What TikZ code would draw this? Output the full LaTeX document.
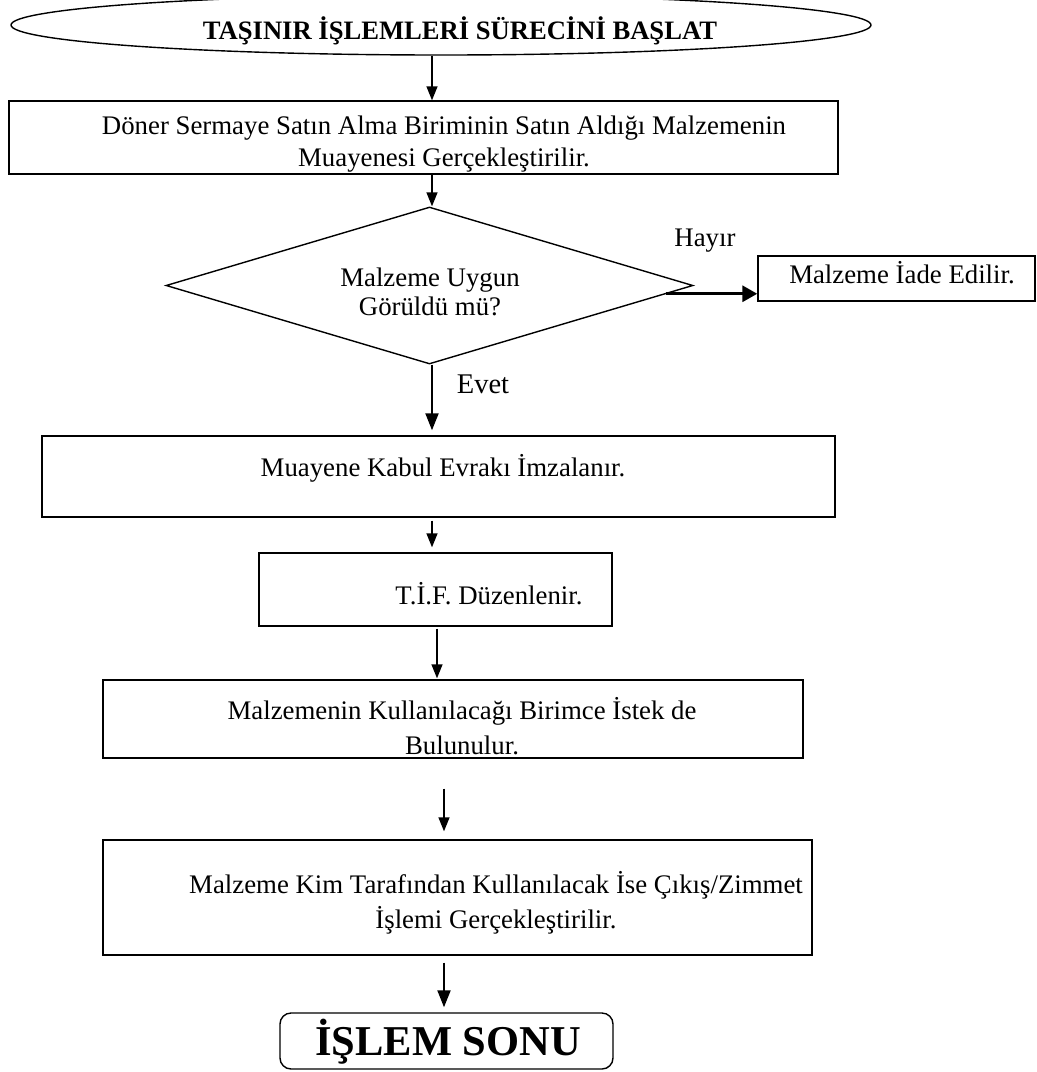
\documentclass[tikz,border=0pt]{standalone}
\usepackage{fontspec}
\setmainfont{Liberation Serif}
\usetikzlibrary{shapes.geometric,arrows.meta}

\begin{document}
\begin{tikzpicture}[x=1pt,y=-1pt,
  boxshape/.style={draw,line width=1.4pt,inner sep=0pt},
  body/.style={font=\fontsize{26.8}{32}\selectfont,align=center,inner sep=0pt},
  arr/.style={line width=1.4pt,-{Triangle[width=11pt,length=14pt]}},
  arrthick/.style={line width=2pt,-{Triangle[width=13pt,length=17pt]}},
  arrheavy/.style={line width=3.2pt,-{Triangle[width=16pt,length=15pt]}}]
\useasboundingbox (0,0) rectangle (1037,1072);

% start terminator
\node[boxshape,ellipse,minimum width=860,minimum height=60] (start) at (441,25) {};
\node[font=\bfseries\fontsize{26.6}{30}\selectfont,inner sep=0pt] (tstart) at (460,31) {TAŞINIR İŞLEMLERİ SÜRECİNİ BAŞLAT};

% process boxes
\node[boxshape,minimum width=829,minimum height=73] (b1) at (423.5,137.5) {};
\node[body] (t1) at (444,144) {Döner Sermaye Satın Alma Biriminin Satın Aldığı Malzemenin\\Muayenesi Gerçekleştirilir.};

% decision
\node[boxshape,diamond,minimum width=527,minimum height=157] (d) at (429.5,285.5) {};
\node[body,font=\fontsize{26.8}{29}\selectfont] (td) at (430,292) {Malzeme Uygun\\Görüldü mü?};

\node[boxshape,minimum width=277,minimum height=45] (iade) at (896.5,278.5) {};
\node[body] (tiade) at (902,273) {Malzeme İade Edilir.};

\node[boxshape,minimum width=793,minimum height=81] (b2) at (438.5,476.5) {};
\node[body] (t2) at (443,468) {Muayene Kabul Evrakı İmzalanır.};

\node[boxshape,minimum width=353,minimum height=73] (b3) at (435.5,589.5) {};
\node[body] (t3) at (489,594) {T.İ.F. Düzenlenir.};

\node[boxshape,minimum width=700,minimum height=78] (b4) at (453,719) {};
\node[body,font=\fontsize{26.8}{35}\selectfont] (t4) at (462,726) {Malzemenin Kullanılacağı Birimce İstek de\\Bulunulur.};

\node[boxshape,minimum width=709,minimum height=115] (b5) at (457.5,897.5) {};
\node[body,font=\fontsize{26.8}{35}\selectfont] (t5) at (496,903) {Malzeme Kim Tarafından Kullanılacak İse Çıkış/Zimmet\\İşlemi Gerçekleştirilir.};

% end terminator
\node[boxshape,rounded corners=11pt,minimum width=333,minimum height=56] (end) at (446.5,1041) {};
\node[font=\bfseries\fontsize{42.5}{48}\selectfont,inner sep=0pt] (tend) at (448,1042) {İŞLEM SONU};

% branch labels
\node[body] (hayir) at (705,241) {Hayır};
\node[body,font=\fontsize{28.5}{32}\selectfont] (evet) at (483,384) {Evet};

% connector columns
\coordinate (cA) at (432,0);
\coordinate (cB) at (437,0);
\coordinate (cC) at (444,0);

% connectors
\draw[arr] (start.south -| cA) -- (b1.north -| cA);
\draw[arr] (b1.south -| cA) -- (d.north -| cA);
\draw[arrheavy] (d.-2.9) -- (d.-2.9 -| iade.west);
\draw[arrthick,shorten >=5pt] (d.south -| cA) -- (b2.north -| cA);
\draw[arr,shorten <=3pt,shorten >=5pt] (b2.south -| cA) -- (b3.north -| cA);
\draw[arr,shorten <=2pt,shorten >=1pt] (b3.south -| cB) -- (b4.north -| cB);
\draw[arr,shorten <=30pt,shorten >=8pt] (b4.south -| cC) -- (b5.north -| cC);
\draw[arrthick,shorten >=5pt] ([yshift=-7pt]b5.south -| cC) -- (end.north -| cC);
\end{tikzpicture}
\end{document}
